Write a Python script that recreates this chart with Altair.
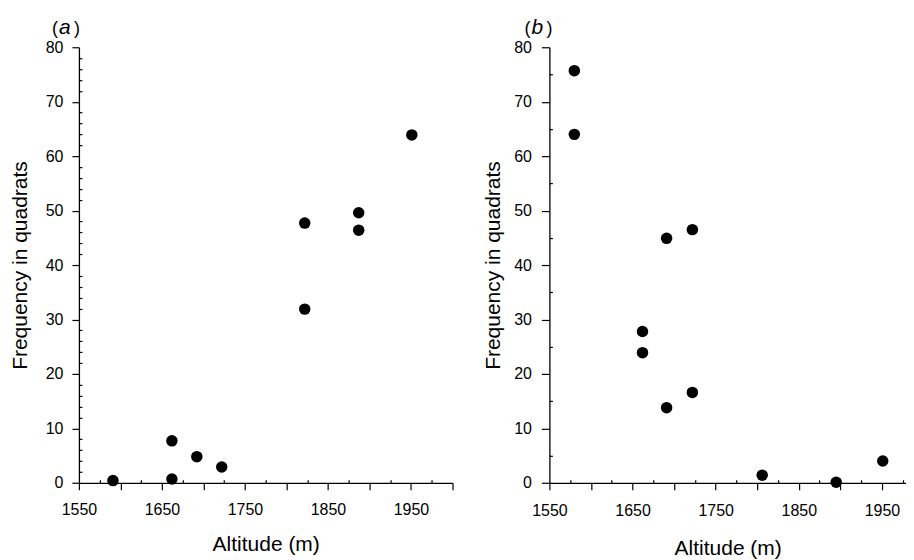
import altair as alt
import pandas as pd

# Panel (a)
alt_a = [1591, 1662, 1662, 1692, 1722, 1822, 1822, 1887, 1887, 1951]
freq_a = [0.4, 7.7, 0.7, 4.8, 2.9, 31.9, 47.7, 49.6, 46.4, 63.9]
# Panel (b)
alt_b = [1580, 1580, 1662, 1662, 1691, 1691, 1722, 1722, 1806, 1895, 1951]
freq_b = [75.7, 64.0, 27.8, 23.9, 44.9, 13.8, 46.5, 16.6, 1.4, 0.1, 4.0]

y_ticks = [0, 10, 20, 30, 40, 50, 60, 70, 80]
x_ticks = [1550, 1600, 1650, 1700, 1750, 1800, 1850, 1900, 1950, 2000]
x_minor = [1575, 1625, 1675, 1725, 1775, 1825, 1875, 1925, 1975]
y_minor_a = [v for v in range(0, 81, 2) if v % 10 != 0]
y_minor_b = [5, 15, 25, 35, 45, 55, 65, 75]

FONT = "Liberation Sans"


def panel(xs, ys, xmax, width, letter, letter_pos, y_minor, y_title_pad, x_title_pad,
          y_tick, y_lab_pad, x_lab_pad):
    df = pd.DataFrame({"alt": xs, "freq": ys})
    xsc = alt.Scale(domain=[1550, xmax], nice=False, zero=False)
    ysc = alt.Scale(domain=[0, 80], nice=False)
    base = alt.Chart(df)
    pts = base.mark_circle(size=132, color="black", opacity=1).encode(
        x=alt.X("alt:Q", scale=xsc,
                axis=alt.Axis(values=[v for v in x_ticks if v <= xmax], tickSize=7,
                              labelPadding=x_lab_pad, grid=False, labelFlush=False,
                              labelExpr="datum.value % 100 == 50 ? datum.label : ''",
                              format="d", title="Altitude (m)", titlePadding=x_title_pad)),
        y=alt.Y("freq:Q", scale=ysc,
                axis=alt.Axis(values=y_ticks, tickSize=y_tick, labelPadding=y_lab_pad,
                              grid=False, labelFlush=False, title="Frequency in quadrats",
                              titlePadding=y_title_pad)),
    )
    minor = base.mark_circle(opacity=0).encode(
        x=alt.X("alt:Q", scale=xsc,
                axis=alt.Axis(values=[v for v in x_minor if v <= xmax], orient="bottom",
                              offset=-3, tickSize=3, labels=False, domain=False,
                              grid=False, title=None)),
        y=alt.Y("freq:Q", scale=ysc,
                axis=alt.Axis(values=y_minor, orient="left", offset=-3, tickSize=3,
                              labels=False, domain=False, grid=False, title=None)),
    )
    one = pd.DataFrame({"t": [0]})
    (px, lx, rx, by) = letter_pos
    t1 = alt.Chart(one).mark_text(text="(", align="left", baseline="alphabetic",
                                  font=FONT, fontSize=18, color="black").encode(
        x=alt.value(px), y=alt.value(by))
    t2 = alt.Chart(one).mark_text(text=letter, align="left", baseline="alphabetic",
                                  font=FONT, fontSize=21, fontStyle="italic",
                                  color="black").encode(
        x=alt.value(lx), y=alt.value(by))
    t3 = alt.Chart(one).mark_text(text=")", align="left", baseline="alphabetic",
                                  font=FONT, fontSize=18, color="black").encode(
        x=alt.value(rx), y=alt.value(by))
    return alt.layer(pts, minor, t1, t2, t3).resolve_axis(
        x="independent", y="independent").properties(width=width, height=436)


pa = panel(alt_a, freq_a, 2000, 374, "a", (-27, -20, -5, -13), y_minor_a, 15, 16, 7, 9, 12)
pb = panel(alt_b, freq_b, 1979, 357, "b", (-25, -18, -3, -13), y_minor_b, 10, 19, 8, 10, 13)

chart = alt.hconcat(pa, pb, spacing=29).configure_view(stroke=None).configure_axis(
    domainColor="black", domainWidth=1.3, tickColor="black", tickWidth=1.2,
    labelColor="black", labelFont=FONT, labelFontSize=16,
    titleColor="black", titleFont=FONT, titleFontSize=21, titleFontWeight="normal",
).properties(padding={"left": 1, "top": 9, "right": 0, "bottom": 0})

chart.save("out.html", embed_options={"renderer": "svg", "actions": False})
